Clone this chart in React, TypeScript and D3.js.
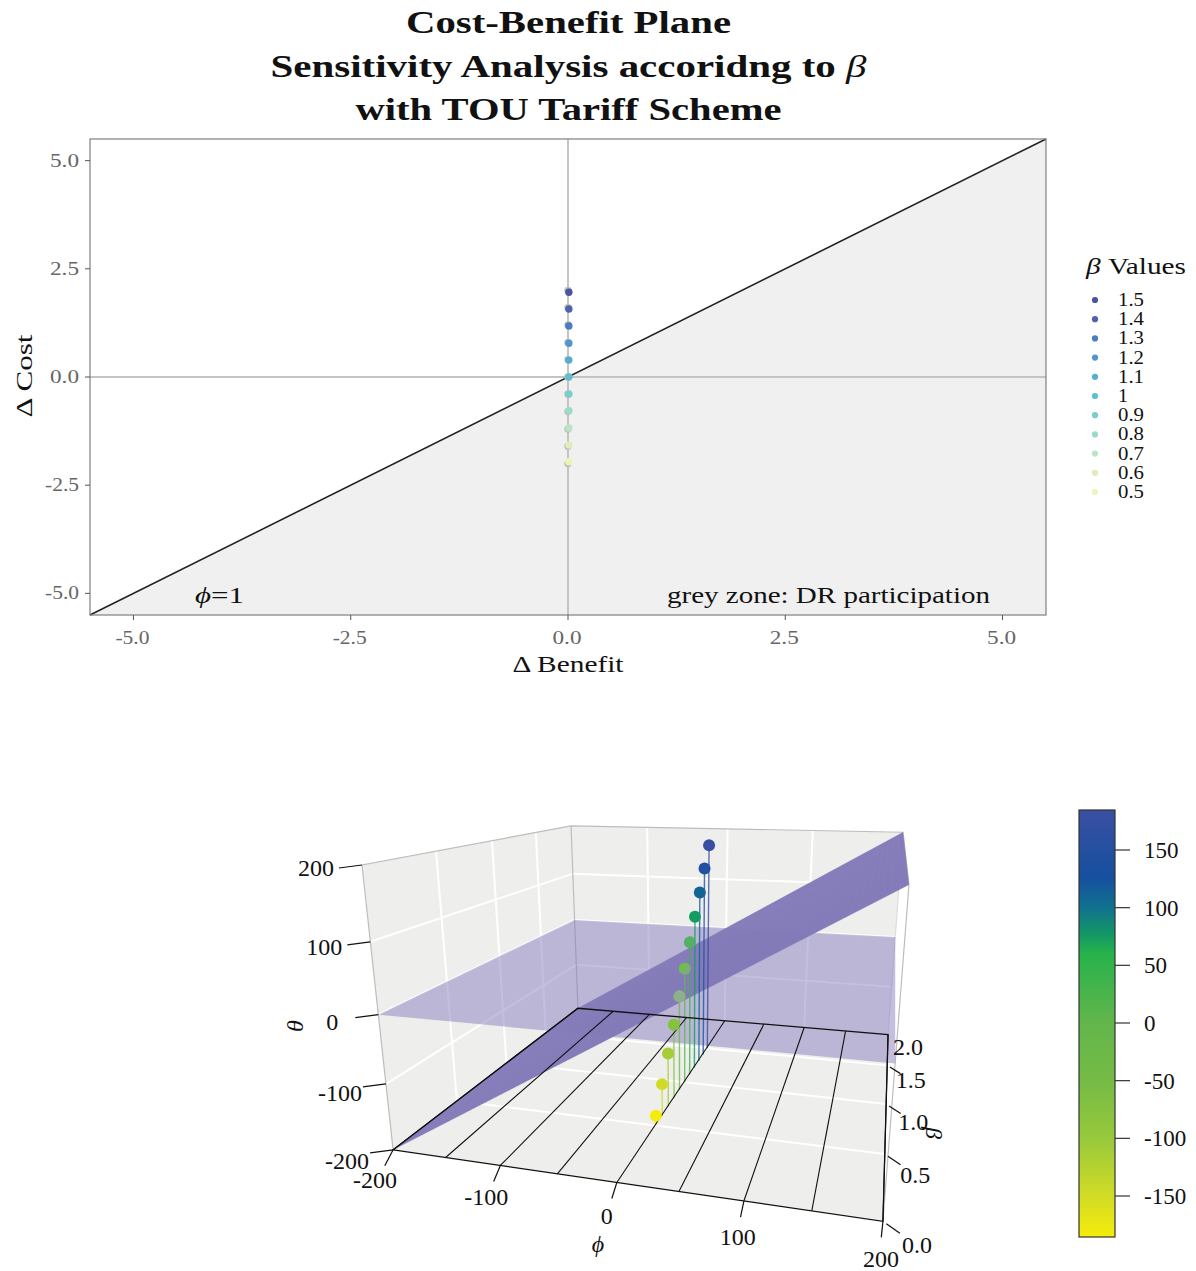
import React from "react";
import * as d3 from "d3";

// ---------- data: top panel ----------
const betaLabels = ["1.5", "1.4", "1.3", "1.2", "1.1", "1", "0.9", "0.8", "0.7", "0.6", "0.5"];
const betaColors = ["#4855A5", "#4F62B0", "#4A7CBE", "#4E97CB", "#56AECF", "#5EBFD0", "#7BCDCB", "#9CDBC6", "#BDE3C5", "#DDEDBC", "#EEF3B8"];
const deltaCostColored = [1.96, 1.57, 1.18, 0.78, 0.39, 0, -0.39, -0.78, -1.18, -1.57, -1.96];
const deltaCostGrey = [2, 1.6, 1.2, 0.8, 0.4, 0, -0.4, -0.8, -1.2, -1.6, -2];
const deltaBenefit = 0.01;
const axisTicks = [-5, -2.5, 0, 2.5, 5];
const axisTickLabels = ["-5.0", "-2.5", "0.0", "2.5", "5.0"];
const axisDomain = [-5.5, 5.5];

// ---------- data: 3D panel ----------
const phiTicks = [-200, -100, 0, 100, 200];
const phiLines = [-200, -150, -100, -50, 0, 50, 100, 150, 200];
const betaTicks = [0, 0.5, 1, 1.5, 2];
const thetaTicks = [-200, -100, 0, 100, 200];
const pointBeta = [0.5, 0.6, 0.7, 0.8, 0.9, 1, 1.1, 1.2, 1.3, 1.4, 1.5];
const pointTheta = [-184, -147, -110, -74, -37, 0, 37, 74, 110, 147, 184];
const pointHaze = [0, 0, 0, 0, 0.55, 0, 0.22, 0, 0, 0, 0];
const pointPhi = 1;
const colorbarTicks = [150, 100, 50, 0, -50, -100, -150];
const colorbarStopValues = [184, 125, 100, 75, 60, 0, -50, -100, -150, -185];
const colorbarStopColors = ["#3A4FA2", "#15509F", "#10718F", "#149A63", "#27B24B", "#62B64B", "#75BB45", "#98C93B", "#D2DC25", "#F5EC0A"];
const surfaceColor = "#7E76B5";
const planeColor = "rgb(127,116,188)";

// ---------- layout ----------
const serif = "'Liberation Serif','DejaVu Serif',serif";
const panel = { left: 90, right: 1046, top: 139, bottom: 615 };
const x = d3.scaleLinear().domain(axisDomain).range([panel.left, panel.right]);
const y = d3.scaleLinear().domain(axisDomain).range([panel.bottom, panel.top]);
const colorScale = d3.scaleLinear<string>().domain(colorbarStopValues).range(colorbarStopColors);
const colorbarY = d3.scaleLinear().domain([0, 150]).range([1023, 850]);

// camera calibration: box corners [phi, beta, theta] -> picture position
const boxCorners: [number, number, number, number, number][] = [
  [-200, 0, -200, 393, 1150],
  [200, 0, -200, 883, 1221],
  [-200, 2, -200, 578, 1008],
  [200, 2, -200, 888, 1035],
  [-200, 0, 200, 362, 865],
  [-200, 2, 200, 571, 826],
  [200, 2, 200, 903, 832],
  [200, 0, 200, 909, 885],
];

function solveCamera() {
  const rows: number[][] = [];
  const rhs: number[] = [];
  for (const [a, b, c, u, v] of boxCorners) {
    const X = a / 200, Y = b - 1, Z = c / 200;
    rows.push([X, Y, Z, 1, 0, 0, 0, 0, -u * X, -u * Y, -u * Z]); rhs.push(u);
    rows.push([0, 0, 0, 0, X, Y, Z, 1, -v * X, -v * Y, -v * Z]); rhs.push(v);
  }
  const n = 11;
  const M = d3.range(n).map((i) =>
    [...d3.range(n).map((j) => d3.sum(rows, (r) => r[i] * r[j])), d3.sum(rows, (r, k) => r[i] * rhs[k])]
  );
  for (let i = 0; i < n; i++) {
    let p = i;
    for (let r = i + 1; r < n; r++) if (Math.abs(M[r][i]) > Math.abs(M[p][i])) p = r;
    [M[i], M[p]] = [M[p], M[i]];
    for (let r = 0; r < n; r++) {
      if (r === i) continue;
      const f = M[r][i] / M[i][i];
      for (let c = i; c <= n; c++) M[r][c] -= f * M[i][c];
    }
  }
  return M.map((row, i) => row[n] / row[i]);
}
const cam = solveCamera();
function P(phi: number, beta: number, theta: number): [number, number] {
  const X = phi / 200, Y = beta - 1, Z = theta / 200;
  const w = cam[8] * X + cam[9] * Y + cam[10] * Z + 1;
  return [(cam[0] * X + cam[1] * Y + cam[2] * Z + cam[3]) / w, (cam[4] * X + cam[5] * Y + cam[6] * Z + cam[7]) / w];
}
const line = d3.line();
const poly = (pts: [number, number][]) => line(pts)! + "Z";
const seg = (a: [number, number], b: [number, number]) => line([a, b])!;

const PHI0 = -200, PHI1 = 200, B0 = 0, B1 = 2, T0 = -200, T1 = 200;
const meshPhi = d3.range(PHI0, PHI1 + 1, 5);
const meshBeta = d3.range(B0, B1 + 0.001, 0.05);

function T({ x, y, size, w, anchor = "middle", weight, fill = "#111", children, rotate }: any) {
  return (
    <text
      x={rotate === undefined ? x : 0}
      y={rotate === undefined ? y : 0}
      transform={rotate === undefined ? undefined : `translate(${x},${y}) rotate(${rotate})`}
      fontFamily={serif}
      fontSize={size}
      textAnchor={anchor}
      fontWeight={weight}
      fill={fill}
      textLength={w}
      lengthAdjust={w ? "spacingAndGlyphs" : undefined}
    >
      {children}
    </text>
  );
}
const Greek = ({ c }: { c: string }) => <tspan fontStyle="italic" fontWeight="normal">{c}</tspan>;

export default function App() {
  const belowLine: [number, number][] = [
    [x(axisDomain[0]), y(axisDomain[0])],
    [x(axisDomain[1]), y(axisDomain[1])],
    [x(axisDomain[1]), y(axisDomain[0])],
  ];
  return (
    <svg width={1196} height={1271} style={{ position: "absolute", left: 0, top: 0, background: "#fff" }}>
      <defs>
        <linearGradient id="cb" x1="0" x2="0" y1="1" y2="0">
          {colorbarStopValues.slice().reverse().map((v) => (
            <stop key={v} offset={(v + 185) / 369} stopColor={colorScale(v)} />
          ))}
        </linearGradient>
        <linearGradient id="halfDot" x1="0.15" y1="0.15" x2="0.85" y2="0.85">
          <stop offset="0.48" stopColor="#6CC04A" />
          <stop offset="0.52" stopColor="#7FAD78" />
        </linearGradient>
      </defs>

      {/* title */}
      <T x={568.5} y={33} size={31} w={325} weight="bold">Cost-Benefit Plane</T>
      <T x={568.5} y={77} size={31} w={596} weight="bold">Sensitivity Analysis accoridng to <Greek c="β" /></T>
      <T x={568.5} y={120} size={31} w={426} weight="bold">with TOU Tariff Scheme</T>

      {/* top panel */}
      <path d={poly(belowLine)} fill="#F0F0F0" />
      <line x1={x(0)} x2={x(0)} y1={panel.top} y2={panel.bottom} stroke="#C4C4C4" strokeWidth={2} />
      <line x1={panel.left} x2={panel.right} y1={y(0)} y2={y(0)} stroke="#C4C4C4" strokeWidth={2} />
      <path d={seg(belowLine[0], belowLine[1])} stroke="#222" strokeWidth={1.6} fill="none" />
      {deltaCostGrey.map((v, i) => <circle key={i} cx={x(0)} cy={y(v)} r={3.7} fill="#BDBDBD" />)}
      {deltaCostColored.map((v, i) => <circle key={i} cx={x(deltaBenefit)} cy={y(v)} r={3.7} fill={betaColors[i]} />)}
      <rect x={panel.left} y={panel.top} width={panel.right - panel.left} height={panel.bottom - panel.top} fill="none" stroke="#7F7F7F" strokeWidth={1.2} />
      {axisTicks.map((t, i) => (
        <g key={t}>
          <line x1={x(t)} x2={x(t)} y1={panel.bottom} y2={panel.bottom + 5} stroke="#555" strokeWidth={1} />
          <T x={x(t) - 1} y={644} size={19} w={i < 2 ? 34 : 29} fill="#666">{axisTickLabels[i]}</T>
          <line x1={panel.left - 5} x2={panel.left} y1={y(t)} y2={y(t)} stroke="#555" strokeWidth={1} />
          <T x={79} y={y(t) + 6} size={19} w={i < 2 ? 34 : 29} anchor="end" fill="#666">{axisTickLabels[i]}</T>
        </g>
      ))}
      <T x={568} y={672} size={24} w={111}>Δ Benefit</T>
      <T x={32} y={376} size={24} w={83} rotate={-90}>Δ Cost</T>
      <T x={195} y={603} size={24} w={49} anchor="start"><Greek c="ϕ" />=1</T>
      <T x={667} y={603} size={24} w={323} anchor="start">grey zone: DR participation</T>

      {/* legend */}
      <T x={1086} y={274} size={24} w={100} anchor="start"><Greek c="β" /> Values</T>
      {betaLabels.map((b, i) => (
        <g key={b}>
          <circle cx={1095} cy={300 + i * 19.2} r={3.1} fill={betaColors[i]} />
          <T x={1118} y={306 + i * 19.2} size={18} w={b.length > 1 ? 26 : 10} anchor="start">{b}</T>
        </g>
      ))}

      {/* 3D box walls */}
      <path d={poly([P(PHI0, B0, T0), P(PHI0, B0, T1), P(PHI0, B1, T1), P(PHI0, B1, T0)])} fill="#EEEEEC" />
      <path d={poly([P(PHI0, B1, T0), P(PHI0, B1, T1), P(PHI1, B1, T1), P(PHI1, B1, T0)])} fill="#EEEEEC" />
      <path d={poly([P(PHI0, B0, T0), P(PHI0, B1, T0), P(PHI1, B1, T0), P(PHI1, B0, T0)])} fill="#EEEEEC" />

      {/* white grid */}
      {thetaTicks.slice(1, -1).map((t) => (
        <g key={t} stroke="#fff" strokeWidth={2} fill="none">
          <path d={seg(P(PHI0, B0, t), P(PHI0, B1, t))} />
          <path d={seg(P(PHI0, B1, t), P(PHI1, B1, t))} />
        </g>
      ))}
      {betaTicks.slice(1, -1).map((b) => (
        <g key={b} stroke="#fff" strokeWidth={2} fill="none">
          <path d={seg(P(PHI0, b, T0), P(PHI0, b, T1))} />
          <path d={seg(P(PHI0, b, T0), P(PHI1, b, T0))} />
        </g>
      ))}
      {phiTicks.slice(1, -1).map((p) => (
        <path key={p} d={seg(P(p, B1, T0), P(p, B1, T1))} stroke="#fff" strokeWidth={2} fill="none" />
      ))}

      {/* box outline, grey */}
      <path d={line([P(PHI0, B0, T0), P(PHI0, B0, T1), P(PHI0, B1, T1), P(PHI1, B1, T1), P(PHI1, B0, T1), P(PHI1, B0, T0)])!} fill="none" stroke="#BDBDBD" strokeWidth={1.2} />
      <path d={seg(P(PHI0, B1, T0), P(PHI0, B1, T1))} stroke="#BDBDBD" strokeWidth={1.2} />
      <path d={seg(P(PHI1, B1, T1), P(PHI1, B1, T0))} stroke="#DDD" strokeWidth={1.2} />

      {/* theta = 0 plane */}
      <path d={poly([P(PHI0, B0, 0), P(PHI0, B1, 0), P(PHI1, B1, 0), P(PHI1, B0, 0)])} fill={planeColor} fillOpacity={0.46} />

      {/* theta = phi surface */}
      <path d={poly([P(PHI0, B0, T0), P(PHI0, B1, T0), P(PHI1, B1, T1), P(PHI1, B0, T1)])} fill={surfaceColor} fillOpacity={0.96} />
      <g stroke="#8F88C0" strokeWidth={0.35} strokeOpacity={0.7} fill="none">
        {meshPhi.map((p) => <path key={p} d={seg(P(p, B0, p), P(p, B1, p))} />)}
        {meshBeta.map((b) => <path key={b} d={seg(P(PHI0, b, T0), P(PHI1, b, T1))} />)}
      </g>

      {/* stems, seen faintly through the planes */}
      {pointBeta.map((b, i) => (
        <path key={i} d={seg(P(pointPhi, b, T0), P(pointPhi, b, pointTheta[i]))} stroke={colorScale(pointTheta[i])} strokeWidth={1.4} strokeOpacity={0.8} fill="none" />
      ))}

      {/* floor lines and axes */}
      <path d={poly([P(PHI0, B0, T0), P(PHI0, B1, T0), P(PHI1, B1, T0), P(PHI1, B0, T0)])} fill="none" stroke="#111" strokeWidth={1.3} />
      {phiLines.map((p) => <path key={p} d={seg(P(p, B0, T0), P(p, B1, T0))} stroke="#111" strokeWidth={1.1} fill="none" />)}

      {/* points */}
      {pointBeta.map((b, i) => {
        const [cx, cy] = P(pointPhi, b, pointTheta[i]);
        return (
          <g key={i}>
            <circle cx={cx} cy={cy} r={6} fill={pointTheta[i] === 0 ? "url(#halfDot)" : colorScale(pointTheta[i])} />
            {pointHaze[i] > 0 && <circle cx={cx} cy={cy} r={6} fill="#A9A6C4" fillOpacity={pointHaze[i]} />}
          </g>
        );
      })}

      {/* theta ticks */}
      {thetaTicks.map((t) => {
        const [a, b] = P(PHI0, B0, t);
        return (
          <g key={t}>
            <line x1={a} y1={b} x2={a - 23} y2={b + 3} stroke="#111" strokeWidth={1.2} />
            <T x={a - 46} y={b + 15 - t / 50} size={24}>{t}</T>
          </g>
        );
      })}
      {/* phi ticks */}
      {phiTicks.map((p) => {
        const [a, b] = P(p, B0, T0);
        return (
          <g key={p}>
            <line x1={a} y1={b} x2={a - 5 + p / 60} y2={b + 16} stroke="#111" strokeWidth={1.2} />
            <T x={a - 10 + p / 25} y={b + 42 + p / 50} size={24}>{p}</T>
          </g>
        );
      })}
      {/* beta ticks */}
      {betaTicks.map((v) => {
        const [a, b] = P(PHI1, v, T0);
        const dx = 17 - 2.5 * v, dy = 12 - 2.5 * v;
        return (
          <g key={v}>
            {v < 2 && <line x1={a + dx * 0.2} y1={b + dy * 0.2} x2={a + dx} y2={b + dy} stroke="#111" strokeWidth={1.2} />}
            <T x={a + 34 - 7 * v} y={b + 32 - 6 * v} size={24}>{v.toFixed(1)}</T>
          </g>
        );
      })}
      <T x={303} y={1026} size={24} rotate={-90}><Greek c="θ" /></T>
      <T x={598} y={1252} size={24}><Greek c="ϕ" /></T>
      <T x={926} y={1133} size={24} rotate={90}><Greek c="β" /></T>

      {/* colorbar */}
      <rect x={1079} y={810} width={36} height={427} fill="url(#cb)" stroke="#333" strokeWidth={1.2} />
      {colorbarTicks.map((t) => (
        <g key={t}>
          <line x1={1115} x2={1130} y1={colorbarY(t)} y2={colorbarY(t)} stroke="#333" strokeWidth={1.2} />
          <T x={1144} y={colorbarY(t) + 8} size={23} anchor="start">{t}</T>
        </g>
      ))}
    </svg>
  );
}
